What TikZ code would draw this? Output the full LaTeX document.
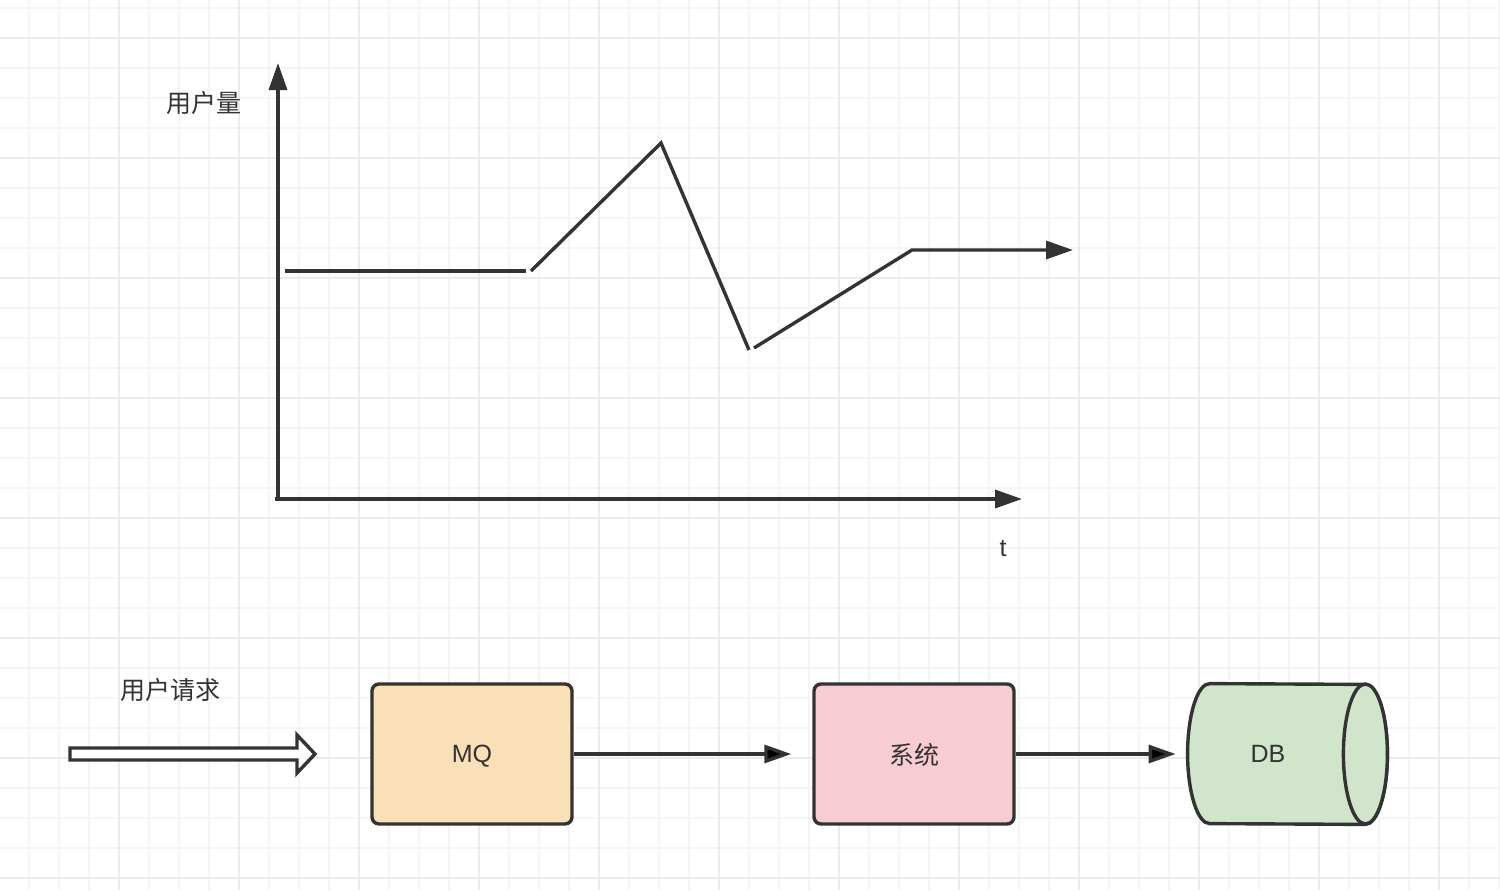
\documentclass[tikz,border=0pt]{standalone}
\usepackage{fontspec}
\setmainfont{Liberation Sans}
\newfontfamily\cjk{Noto Sans CJK SC}
\usetikzlibrary{arrows.meta,calc}

\definecolor{ink}{HTML}{333333}
\definecolor{gridminorcol}{HTML}{F5F5F5}
\definecolor{gridmajorcol}{HTML}{EBEBEB}
\definecolor{mqfill}{HTML}{F9E0B6}
\definecolor{sysfill}{HTML}{F7CDD3}
\definecolor{dbfill}{HTML}{D0E5CA}

\tikzset{
    gridminor/.style={draw=gridminorcol,line width=0.8pt},
    gridmajor/.style={draw=gridmajorcol,line width=1.1pt},
    lbl/.style={text=ink,font=\fontsize{12.5}{15}\selectfont,inner sep=0pt},
    box/.style={shape=rectangle,draw=ink,line width=1.7pt,rounded corners=3.5pt,
        minimum width=100pt,minimum height=70pt,text depth=0pt,text=ink,font=\fontsize{12.5}{15}\selectfont},
    tip/.style={-{Triangle[length=13.5pt,width=9pt]}},
    axis/.style={draw=ink,line width=1.7pt,tip},
    curve/.style={draw=ink,line width=1.7pt},
    flow/.style={draw=ink,line width=1.7pt,tip}
}

\begin{document}
\begin{tikzpicture}[x=0.5pt,y=-0.5pt]
    \useasboundingbox (0,0) rectangle (1500,890);
    \clip (0,0) rectangle (1500,890);
    \fill[white] (0,0) rectangle (1500,890);

    % grid
    \foreach \gx in {29,59,...,1499} \draw[gridminor] (\gx,0) -- (\gx,890);
    \foreach \gy in {8,38,...,878} \draw[gridminor] (0,\gy) -- (1500,\gy);
    \foreach \gx in {119,239,...,1439} \draw[gridmajor] (\gx,0) -- (\gx,890);
    \foreach \gy in {38,158,...,878} \draw[gridmajor] (0,\gy) -- (1500,\gy);

    % chart
    \coordinate (origin) at (278,499);
    \coordinate (ytop) at (278,63);
    \coordinate (xend) at (1022,499);
    \draw[axis] ($(origin)+(0,2)$) -- (ytop);
    \draw[axis] ($(origin)+(-3,0)$) -- (xend);
    \node[lbl] (users) at (204,103) {\cjk 用户量};
    \node[lbl] (time) at (1003,549) {t};

    \draw[curve] (285,271) -- (526,271);
    \draw[curve] (531,271) -- (661,143) -- (749,350);
    \draw[curve,tip] (754,348) -- (912,250) -- (1073,250);

    % request flow
    \node[lbl] (requests) at (170,690) {\cjk 用户请求};
    \draw[draw=ink,line width=1.7pt,fill=white] (70,748) -- (297,748) -- (297,735) -- (315,754)
        -- (297,773) -- (297,760) -- (70,760) -- cycle;

    \node[box,fill=mqfill] (MQ) at (472,754) {MQ};
    \node[box,fill=sysfill] (System) at (914,754) {\cjk 系统};
    \node[lbl,minimum width=80pt,minimum height=70pt] (DB) at (1268,754) {};

    % cylinder
    \draw[draw=ink,line width=1.7pt,fill=dbfill]
        ($(DB.north west)+(22,0)$) arc[start angle=90,end angle=270,x radius=11pt,y radius=35pt]
        -- ($(DB.south east)+(17,0)$) arc[start angle=-90,end angle=90,x radius=11pt,y radius=35pt]
        -- cycle;
    \draw[draw=ink,line width=1.7pt,fill=dbfill] ($(DB.east)+(17,0)$) ellipse[x radius=11pt,y radius=35pt];
    \node[lbl] at (DB) {DB};

    \path[flow,shorten >=10.5pt] (MQ) edge (System);
    \path[flow,shorten >=6pt] (System) edge (DB);
\end{tikzpicture}
\end{document}
